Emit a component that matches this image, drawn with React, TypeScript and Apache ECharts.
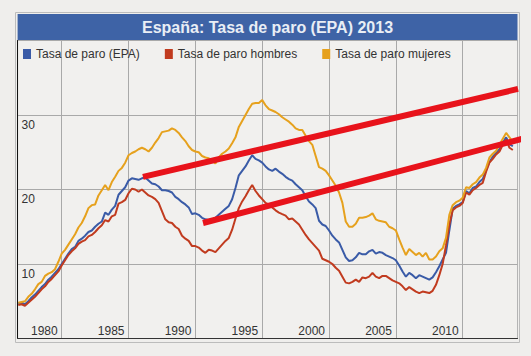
import React, { useEffect, useRef } from "react";
import * as echarts from "echarts";

// Trimestres desde 1976T3 hasta 2013T3 (EPA)
const START_YEAR = 1976;
const START_QUARTER = 3;

const yearTicks = [1980, 1985, 1990, 1995, 2000, 2005, 2010];

const tasaTotal = [
  4.7, 4.8, 4.6, 5.0, 5.5, 5.9, 6.4, 6.9, 7.3, 7.9,
  8.3, 8.8, 9.3, 10.0, 10.7, 11.4, 12.0, 12.3, 13.1, 13.4,
  13.8, 14.3, 14.5, 15.0, 15.4, 15.7, 16.9, 16.6, 17.3, 17.8,
  19.3, 19.8, 20.3, 21.2, 21.5, 21.4, 21.3, 21.5, 21.6, 21.2,
  20.8, 20.7, 20.4, 19.9, 19.9, 19.8, 19.6, 19.0, 18.7, 18.3,
  18.0, 17.6, 16.7, 16.8, 16.6, 16.2, 16.0, 15.9, 16.0, 16.2,
  16.6, 17.0, 17.4, 17.8, 18.7, 20.2, 21.9, 22.5, 23.1, 23.9,
  24.6, 24.1, 23.9, 23.6, 23.1, 22.7, 22.5, 22.8, 22.4, 22.1,
  21.7, 21.4, 21.2, 20.7, 20.3, 19.9, 19.1, 18.4, 18.0, 17.5,
  15.8, 15.3, 15.1, 14.5, 13.8, 13.3, 12.9, 11.9, 10.9, 10.4,
  10.5, 10.9, 11.5, 11.3, 11.3, 11.7, 11.9, 11.4, 11.6, 11.5,
  11.2, 11.0, 10.8, 10.5, 9.8, 9.0, 8.3, 8.8, 8.5, 8.1,
  8.5, 8.3, 8.1, 7.9, 8.2, 8.9, 9.7, 10.6, 11.5, 14.5,
  17.4, 17.8, 18.0, 18.3, 19.8, 19.5, 20.2, 20.4, 21.0, 21.4,
  22.6, 23.7, 24.4, 24.9, 25.4, 26.3, 27.0, 26.1, 25.8,
];

const tasaHombres = [
  4.5, 4.6, 4.4, 4.8, 5.2, 5.6, 6.1, 6.6, 7.0, 7.6,
  8.0, 8.5, 9.0, 9.8, 10.5, 11.2, 11.7, 12.1, 12.7, 13.0,
  13.2, 13.7, 13.9, 14.3, 14.8, 15.2, 15.9, 15.7, 16.4, 16.6,
  18.1, 18.3, 18.6, 19.5, 20.1, 20.0, 19.7, 20.0, 19.6, 19.2,
  19.0, 18.7, 18.2, 17.1, 16.0, 15.6, 15.5, 15.0, 14.7, 13.8,
  13.4, 13.1, 12.4, 12.4, 12.2, 11.8, 11.5, 11.9, 11.8, 11.6,
  12.1, 12.6, 13.1, 13.5, 14.6, 16.1, 17.5, 18.4, 19.1, 19.9,
  20.6, 19.8, 19.2, 18.7, 18.2, 18.0, 17.6, 17.2, 16.9, 16.7,
  16.5, 16.0, 16.1, 15.7, 15.3, 14.6, 13.9, 13.3, 12.8, 12.3,
  11.8, 10.7, 10.5, 10.3, 10.0, 9.5, 9.1, 8.3, 7.5, 7.4,
  7.6, 7.9, 7.6, 8.2, 8.1, 8.3, 8.8, 8.3, 8.1, 8.4,
  8.4, 8.1, 7.8, 7.6, 7.4, 7.0, 6.5, 6.9, 6.6, 6.3,
  6.1, 6.3, 6.2, 6.1, 6.4, 7.2, 8.5, 10.0, 12.5, 15.3,
  17.2, 17.6, 17.8, 18.2, 19.6, 19.3, 19.9, 20.2, 20.6, 20.9,
  22.4, 23.6, 24.1, 24.7, 25.1, 26.0, 26.7, 25.6, 25.3,
];

const tasaMujeres = [
  4.8, 4.9, 5.0, 5.6, 6.0, 6.6, 7.3, 7.6, 8.4, 8.7,
  8.9, 9.3, 10.3, 11.4, 11.9, 12.6, 13.3, 14.0, 14.9, 15.5,
  16.4, 17.5, 17.9, 18.0, 19.2, 19.9, 20.6, 19.9, 21.0, 21.7,
  22.5, 22.9, 23.6, 24.6, 24.9, 25.1, 25.4, 25.6, 25.4, 25.1,
  25.6, 26.3, 26.9, 27.7, 27.8, 27.9, 28.2, 28.0, 27.6, 27.0,
  26.5, 25.8, 25.3, 25.1, 25.0, 24.5, 24.3, 24.2, 23.9, 23.5,
  24.3, 24.8, 25.1, 25.5, 26.2, 27.0, 28.4, 29.2, 30.0, 30.8,
  31.5, 31.6, 31.6, 32.0, 31.3, 30.8, 30.6, 30.4, 30.1, 29.7,
  29.4, 29.1, 28.7, 28.2, 28.0, 28.0, 27.2, 26.5, 26.0, 24.5,
  23.0, 22.8, 22.5, 21.9, 21.2, 20.5, 19.6, 18.2, 15.7, 15.0,
  15.0, 15.4, 16.2, 16.2, 16.3, 16.5, 16.8, 16.0, 15.8, 15.7,
  15.6, 15.0, 14.8, 14.5, 13.3, 12.2, 11.2, 12.0, 11.6, 11.2,
  11.5, 11.0, 11.5, 10.6, 10.6, 11.0, 11.7, 12.1, 13.5, 16.6,
  17.9, 18.3, 18.5, 18.9, 20.3, 20.2, 20.7, 21.0, 21.6, 22.0,
  22.9, 24.3, 24.8, 25.2, 26.0, 26.8, 27.6, 27.0, 26.4,
];

// Líneas de tendencia dibujadas a mano (año, tasa)
const tendenciaSuperior = [
  [1986.08, 21.7],
  [2014.14, 33.5],
];
const tendenciaInferior = [
  [1990.57, 15.5],
  [2014.44, 26.8],
];

const seriesNames = ["Tasa de paro (EPA)", "Tasa de paro hombres", "Tasa de paro mujeres"];
const seriesColors = ["#3a5ba7", "#c13b1f", "#e6a11d"];

// Etiquetas de trimestre "1976T3", ...
const quarterLabels: string[] = [];
{
  let y = START_YEAR;
  let q = START_QUARTER;
  for (let i = 0; i < tasaTotal.length; i++) {
    quarterLabels.push(`${y}T${q}`);
    q++;
    if (q > 4) {
      q = 1;
      y++;
    }
  }
}
const quarterTimes = quarterLabels.map((l) => {
  const [y, q] = l.split("T");
  return Number(y) + Number(q) / 4;
});

const FONT = "'Liberation Sans', Arial, Helvetica, sans-serif";

export default function App() {
  const ref = useRef<HTMLDivElement>(null);

  useEffect(() => {
    if (!ref.current) return;
    const chart = echarts.init(ref.current, null, { renderer: "svg" });
    const toPairs = (vals: number[]) => vals.map((v, i) => [quarterTimes[i], v]);
    const dataSets = [tasaTotal, tasaHombres, tasaMujeres];

    chart.setOption({
      animation: false,
      backgroundColor: "#efeeec",
      textStyle: { fontFamily: FONT },
      grid: {
        left: 17.6,
        right: 13.5,
        top: 40.5,
        bottom: 17.5,
        show: true,
        backgroundColor: "#f1f0ee",
        borderColor: "#b4b4b4",
        borderWidth: 1,
      },
      legend: {
        data: seriesNames,
        left: 23,
        top: 48,
        padding: 0,
        itemWidth: 8,
        itemHeight: 10,
        itemGap: 25,
        icon: "rect",
        textStyle: { fontSize: 12, color: "#333", fontFamily: FONT },
      },
      xAxis: {
        type: "value",
        min: 1976.7,
        max: 2014.1,
        axisLine: { show: true, lineStyle: { color: "#333", width: 1 } },
        axisTick: { show: false, customValues: yearTicks },
        axisLabel: {
          customValues: yearTicks,
          inside: true,
          margin: 2,
          align: "right",
          padding: [0, 4, 0, 0],
          color: "#333",
          fontSize: 12,
          fontFamily: FONT,
          formatter: (v: number) => String(v),
        },
        splitLine: { show: true, lineStyle: { color: "#a9a9a9", width: 1 } },
      },
      yAxis: {
        type: "value",
        min: 0,
        max: 40,
        interval: 10,
        axisLine: { show: true, lineStyle: { color: "#111", width: 1 } },
        axisTick: { show: false },
        axisLabel: {
          inside: true,
          margin: 4,
          showMinLabel: false,
          showMaxLabel: false,
          verticalAlign: "top",
          lineHeight: 19,
          color: "#333",
          fontSize: 12,
          fontFamily: FONT,
        },
        splitLine: { show: true, lineStyle: { color: "#a9a9a9", width: 1 } },
      },
      graphic: [
        {
          type: "rect",
          silent: true,
          shape: { x: 15.5, y: 12.5, width: 504, height: 330 },
          style: { fill: "none", stroke: "#bcbcbc", lineWidth: 1 },
        },
        {
          type: "rect",
          silent: true,
          shape: { x: 17.6, y: 14, width: 499.9, height: 26.5 },
          style: { fill: "#3e63a6" },
        },
        {
          type: "text",
          silent: true,
          x: 267.5,
          y: 27.5,
          style: {
            text: "España: Tasa de paro (EPA) 2013",
            fill: "#e9eef5",
            font: `bold 16px ${FONT}`,
            align: "center",
            verticalAlign: "middle",
          },
        },
      ],
      series: [
        ...dataSets.map((d, i) => ({
          name: seriesNames[i],
          type: "line",
          data: toPairs(d),
          symbol: "none",
          showSymbol: false,
          color: seriesColors[i],
          lineStyle: { width: 2, color: seriesColors[i] },
          itemStyle: { color: seriesColors[i] },
          z: 2 + i,
        })),
        ...[tendenciaSuperior, tendenciaInferior].map((d) => ({
          name: "tendencia",
          type: "line",
          data: d,
          symbol: "none",
          clip: false,
          silent: true,
          lineStyle: { width: 6, color: "#e8131b", cap: "butt" },
          itemStyle: { color: "#e8131b" },
          z: 10,
        })),
      ],
    });

    return () => chart.dispose();
  }, []);

  return (
    <div
      ref={ref}
      style={{ position: "fixed", left: 0, top: 0, width: 531, height: 356, background: "#efeeec" }}
    />
  );
}
